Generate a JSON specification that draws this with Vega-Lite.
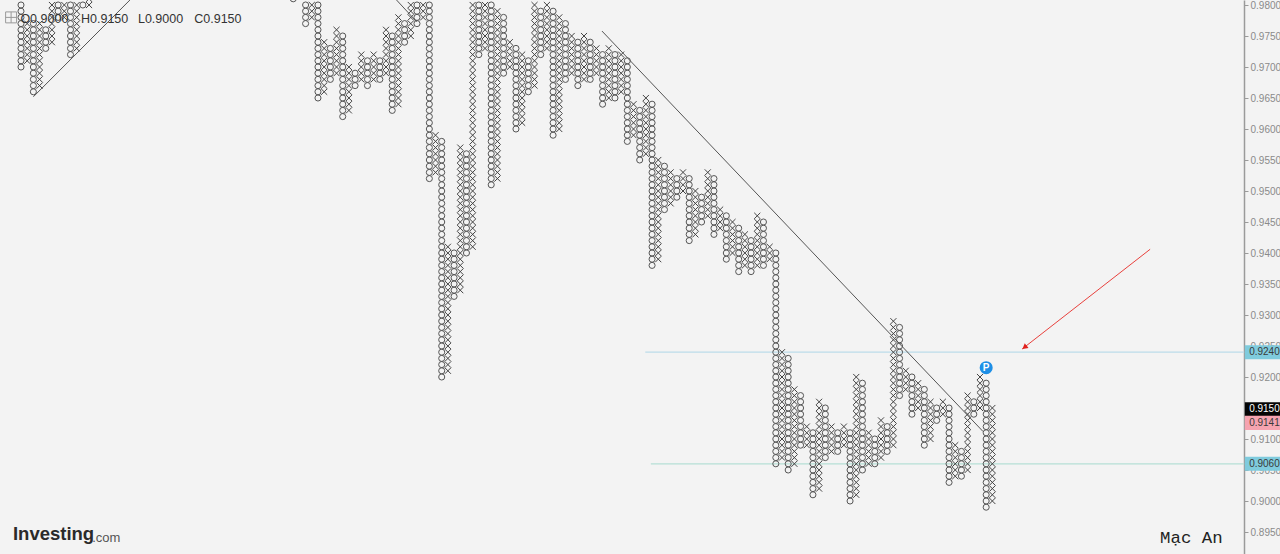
{"$schema":"https://vega.github.io/schema/vega-lite/v6.json","width":1280,"height":554,"padding":0,"autosize":"none","background":"#f3f3f3","config":{"view":{"stroke":null}},
"datasets":{
"O":[
{"c":0,"p":970},{"c":0,"p":971},{"c":0,"p":972},{"c":0,"p":973},{"c":0,"p":974},{"c":0,"p":975},{"c":0,"p":976},{"c":0,"p":977},{"c":0,"p":978},{"c":0,"p":979},{"c":0,"p":980},
{"c":2,"p":966},{"c":2,"p":967},{"c":2,"p":968},{"c":2,"p":969},{"c":2,"p":970},{"c":2,"p":971},{"c":2,"p":972},{"c":2,"p":973},{"c":2,"p":974},{"c":2,"p":975},{"c":2,"p":976},{"c":2,"p":977},
{"c":4,"p":973},{"c":4,"p":974},{"c":4,"p":975},{"c":4,"p":976},
{"c":6,"p":978},{"c":6,"p":979},{"c":6,"p":980},
{"c":8,"p":972},{"c":8,"p":973},{"c":8,"p":974},{"c":8,"p":975},{"c":8,"p":976},{"c":8,"p":977},{"c":8,"p":978},{"c":8,"p":979},{"c":8,"p":980},
{"c":10,"p":980},{"c":44,"p":981},
{"c":46,"p":977},{"c":46,"p":978},{"c":46,"p":979},{"c":46,"p":980},
{"c":48,"p":965},{"c":48,"p":966},{"c":48,"p":967},{"c":48,"p":968},{"c":48,"p":969},{"c":48,"p":970},{"c":48,"p":971},{"c":48,"p":972},{"c":48,"p":973},{"c":48,"p":974},{"c":48,"p":975},{"c":48,"p":976},{"c":48,"p":977},{"c":48,"p":978},{"c":48,"p":979},{"c":48,"p":980},
{"c":50,"p":968},{"c":50,"p":969},{"c":50,"p":970},{"c":50,"p":971},{"c":50,"p":972},{"c":50,"p":973},
{"c":52,"p":962},{"c":52,"p":963},{"c":52,"p":964},{"c":52,"p":965},{"c":52,"p":966},{"c":52,"p":967},{"c":52,"p":968},{"c":52,"p":969},{"c":52,"p":970},{"c":52,"p":971},{"c":52,"p":972},{"c":52,"p":973},{"c":52,"p":974},{"c":52,"p":975},
{"c":54,"p":967},{"c":54,"p":968},{"c":54,"p":969},
{"c":56,"p":967},{"c":56,"p":968},{"c":56,"p":969},{"c":56,"p":970},{"c":56,"p":971},
{"c":58,"p":968},{"c":58,"p":969},{"c":58,"p":970},{"c":58,"p":971},
{"c":60,"p":963},{"c":60,"p":964},{"c":60,"p":965},{"c":60,"p":966},{"c":60,"p":967},{"c":60,"p":968},{"c":60,"p":969},{"c":60,"p":970},{"c":60,"p":971},{"c":60,"p":972},{"c":60,"p":973},{"c":60,"p":974},{"c":60,"p":975},
{"c":62,"p":974},{"c":62,"p":975},{"c":62,"p":976},{"c":62,"p":977},
{"c":64,"p":977},{"c":64,"p":978},{"c":64,"p":979},{"c":64,"p":980},
{"c":66,"p":952},{"c":66,"p":953},{"c":66,"p":954},{"c":66,"p":955},{"c":66,"p":956},{"c":66,"p":957},{"c":66,"p":958},{"c":66,"p":959},{"c":66,"p":960},{"c":66,"p":961},{"c":66,"p":962},{"c":66,"p":963},{"c":66,"p":964},{"c":66,"p":965},{"c":66,"p":966},{"c":66,"p":967},{"c":66,"p":968},{"c":66,"p":969},{"c":66,"p":970},{"c":66,"p":971},{"c":66,"p":972},{"c":66,"p":973},{"c":66,"p":974},{"c":66,"p":975},{"c":66,"p":976},{"c":66,"p":977},{"c":66,"p":978},{"c":66,"p":979},{"c":66,"p":980},
{"c":68,"p":920},{"c":68,"p":921},{"c":68,"p":922},{"c":68,"p":923},{"c":68,"p":924},{"c":68,"p":925},{"c":68,"p":926},{"c":68,"p":927},{"c":68,"p":928},{"c":68,"p":929},{"c":68,"p":930},{"c":68,"p":931},{"c":68,"p":932},{"c":68,"p":933},{"c":68,"p":934},{"c":68,"p":935},{"c":68,"p":936},{"c":68,"p":937},{"c":68,"p":938},{"c":68,"p":939},{"c":68,"p":940},{"c":68,"p":941},{"c":68,"p":942},{"c":68,"p":943},{"c":68,"p":944},{"c":68,"p":945},{"c":68,"p":946},{"c":68,"p":947},{"c":68,"p":948},{"c":68,"p":949},{"c":68,"p":950},{"c":68,"p":951},{"c":68,"p":952},{"c":68,"p":953},{"c":68,"p":954},{"c":68,"p":955},{"c":68,"p":956},{"c":68,"p":957},{"c":68,"p":958},
{"c":70,"p":933},{"c":70,"p":934},{"c":70,"p":935},{"c":70,"p":936},{"c":70,"p":937},{"c":70,"p":938},{"c":70,"p":939},{"c":70,"p":940},
{"c":72,"p":940},{"c":72,"p":941},{"c":72,"p":942},{"c":72,"p":943},{"c":72,"p":944},{"c":72,"p":945},{"c":72,"p":946},{"c":72,"p":947},{"c":72,"p":948},{"c":72,"p":949},{"c":72,"p":950},{"c":72,"p":951},{"c":72,"p":952},{"c":72,"p":953},{"c":72,"p":954},{"c":72,"p":955},{"c":72,"p":956},
{"c":74,"p":972},{"c":74,"p":973},{"c":74,"p":974},{"c":74,"p":975},{"c":74,"p":976},{"c":74,"p":977},{"c":74,"p":978},{"c":74,"p":979},{"c":74,"p":980},
{"c":76,"p":951},{"c":76,"p":952},{"c":76,"p":953},{"c":76,"p":954},{"c":76,"p":955},{"c":76,"p":956},{"c":76,"p":957},{"c":76,"p":958},{"c":76,"p":959},{"c":76,"p":960},{"c":76,"p":961},{"c":76,"p":962},{"c":76,"p":963},{"c":76,"p":964},{"c":76,"p":965},{"c":76,"p":966},{"c":76,"p":967},{"c":76,"p":968},{"c":76,"p":969},{"c":76,"p":970},{"c":76,"p":971},{"c":76,"p":972},{"c":76,"p":973},{"c":76,"p":974},{"c":76,"p":975},{"c":76,"p":976},{"c":76,"p":977},{"c":76,"p":978},{"c":76,"p":979},{"c":76,"p":980},
{"c":78,"p":969},{"c":78,"p":970},{"c":78,"p":971},{"c":78,"p":972},{"c":78,"p":973},{"c":78,"p":974},{"c":78,"p":975},{"c":78,"p":976},{"c":78,"p":977},{"c":78,"p":978},
{"c":80,"p":960},{"c":80,"p":961},{"c":80,"p":962},{"c":80,"p":963},{"c":80,"p":964},{"c":80,"p":965},{"c":80,"p":966},{"c":80,"p":967},{"c":80,"p":968},{"c":80,"p":969},{"c":80,"p":970},{"c":80,"p":971},{"c":80,"p":972},{"c":80,"p":973},
{"c":82,"p":966},{"c":82,"p":967},{"c":82,"p":968},{"c":82,"p":969},{"c":82,"p":970},{"c":82,"p":971},
{"c":84,"p":972},{"c":84,"p":973},{"c":84,"p":974},{"c":84,"p":975},{"c":84,"p":976},{"c":84,"p":977},{"c":84,"p":978},{"c":84,"p":979},
{"c":86,"p":959},{"c":86,"p":960},{"c":86,"p":961},{"c":86,"p":962},{"c":86,"p":963},{"c":86,"p":964},{"c":86,"p":965},{"c":86,"p":966},{"c":86,"p":967},{"c":86,"p":968},{"c":86,"p":969},{"c":86,"p":970},{"c":86,"p":971},{"c":86,"p":972},{"c":86,"p":973},{"c":86,"p":974},{"c":86,"p":975},{"c":86,"p":976},{"c":86,"p":977},{"c":86,"p":978},{"c":86,"p":979},
{"c":88,"p":968},{"c":88,"p":969},{"c":88,"p":970},{"c":88,"p":971},{"c":88,"p":972},{"c":88,"p":973},{"c":88,"p":974},{"c":88,"p":975},{"c":88,"p":976},{"c":88,"p":977},
{"c":90,"p":967},{"c":90,"p":968},{"c":90,"p":969},{"c":90,"p":970},{"c":90,"p":971},{"c":90,"p":972},{"c":90,"p":973},{"c":90,"p":974},
{"c":92,"p":968},{"c":92,"p":969},{"c":92,"p":970},{"c":92,"p":971},{"c":92,"p":972},{"c":92,"p":973},{"c":92,"p":974},
{"c":94,"p":964},{"c":94,"p":965},{"c":94,"p":966},{"c":94,"p":967},{"c":94,"p":968},{"c":94,"p":969},{"c":94,"p":970},{"c":94,"p":971},{"c":94,"p":972},
{"c":96,"p":965},{"c":96,"p":966},{"c":96,"p":967},{"c":96,"p":968},{"c":96,"p":969},{"c":96,"p":970},{"c":96,"p":971},{"c":96,"p":972},
{"c":98,"p":958},{"c":98,"p":959},{"c":98,"p":960},{"c":98,"p":961},{"c":98,"p":962},{"c":98,"p":963},{"c":98,"p":964},{"c":98,"p":965},{"c":98,"p":966},{"c":98,"p":967},{"c":98,"p":968},{"c":98,"p":969},{"c":98,"p":970},{"c":98,"p":971},
{"c":100,"p":955},{"c":100,"p":956},{"c":100,"p":957},{"c":100,"p":958},{"c":100,"p":959},{"c":100,"p":960},{"c":100,"p":961},{"c":100,"p":962},{"c":100,"p":963},
{"c":102,"p":938},{"c":102,"p":939},{"c":102,"p":940},{"c":102,"p":941},{"c":102,"p":942},{"c":102,"p":943},{"c":102,"p":944},{"c":102,"p":945},{"c":102,"p":946},{"c":102,"p":947},{"c":102,"p":948},{"c":102,"p":949},{"c":102,"p":950},{"c":102,"p":951},{"c":102,"p":952},{"c":102,"p":953},{"c":102,"p":954},{"c":102,"p":955},{"c":102,"p":956},{"c":102,"p":957},{"c":102,"p":958},{"c":102,"p":959},{"c":102,"p":960},{"c":102,"p":961},{"c":102,"p":962},{"c":102,"p":963},{"c":102,"p":964},
{"c":104,"p":947},{"c":104,"p":948},{"c":104,"p":949},{"c":104,"p":950},{"c":104,"p":951},{"c":104,"p":952},{"c":104,"p":953},{"c":104,"p":954},
{"c":106,"p":949},{"c":106,"p":950},{"c":106,"p":951},{"c":106,"p":952},
{"c":108,"p":942},{"c":108,"p":943},{"c":108,"p":944},{"c":108,"p":945},{"c":108,"p":946},{"c":108,"p":947},{"c":108,"p":948},{"c":108,"p":949},{"c":108,"p":950},{"c":108,"p":951},{"c":108,"p":952},
{"c":110,"p":945},{"c":110,"p":946},{"c":110,"p":947},{"c":110,"p":948},{"c":110,"p":949},
{"c":112,"p":943},{"c":112,"p":944},{"c":112,"p":945},{"c":112,"p":946},{"c":112,"p":947},{"c":112,"p":948},{"c":112,"p":949},{"c":112,"p":950},{"c":112,"p":951},{"c":112,"p":952},
{"c":114,"p":939},{"c":114,"p":940},{"c":114,"p":941},{"c":114,"p":942},{"c":114,"p":943},{"c":114,"p":944},{"c":114,"p":945},{"c":114,"p":946},
{"c":116,"p":937},{"c":116,"p":938},{"c":116,"p":939},{"c":116,"p":940},{"c":116,"p":941},{"c":116,"p":942},{"c":116,"p":943},{"c":116,"p":944},
{"c":118,"p":937},{"c":118,"p":938},{"c":118,"p":939},{"c":118,"p":940},{"c":118,"p":941},{"c":118,"p":942},
{"c":120,"p":938},{"c":120,"p":939},{"c":120,"p":940},{"c":120,"p":941},{"c":120,"p":942},{"c":120,"p":943},{"c":120,"p":944},{"c":120,"p":945},
{"c":122,"p":906},{"c":122,"p":907},{"c":122,"p":908},{"c":122,"p":909},{"c":122,"p":910},{"c":122,"p":911},{"c":122,"p":912},{"c":122,"p":913},{"c":122,"p":914},{"c":122,"p":915},{"c":122,"p":916},{"c":122,"p":917},{"c":122,"p":918},{"c":122,"p":919},{"c":122,"p":920},{"c":122,"p":921},{"c":122,"p":922},{"c":122,"p":923},{"c":122,"p":924},{"c":122,"p":925},{"c":122,"p":926},{"c":122,"p":927},{"c":122,"p":928},{"c":122,"p":929},{"c":122,"p":930},{"c":122,"p":931},{"c":122,"p":932},{"c":122,"p":933},{"c":122,"p":934},{"c":122,"p":935},{"c":122,"p":936},{"c":122,"p":937},{"c":122,"p":938},{"c":122,"p":939},{"c":122,"p":940},
{"c":124,"p":905},{"c":124,"p":906},{"c":124,"p":907},{"c":124,"p":908},{"c":124,"p":909},{"c":124,"p":910},{"c":124,"p":911},{"c":124,"p":912},{"c":124,"p":913},{"c":124,"p":914},{"c":124,"p":915},{"c":124,"p":916},{"c":124,"p":917},{"c":124,"p":918},{"c":124,"p":919},{"c":124,"p":920},{"c":124,"p":921},{"c":124,"p":922},{"c":124,"p":923},
{"c":126,"p":909},{"c":126,"p":910},{"c":126,"p":911},{"c":126,"p":912},{"c":126,"p":913},{"c":126,"p":914},{"c":126,"p":915},{"c":126,"p":916},{"c":126,"p":917},
{"c":128,"p":901},{"c":128,"p":902},{"c":128,"p":903},{"c":128,"p":904},{"c":128,"p":905},{"c":128,"p":906},{"c":128,"p":907},{"c":128,"p":908},{"c":128,"p":909},{"c":128,"p":910},{"c":128,"p":911},
{"c":130,"p":907},{"c":130,"p":908},{"c":130,"p":909},{"c":130,"p":910},{"c":130,"p":911},{"c":130,"p":912},{"c":130,"p":913},{"c":130,"p":914},{"c":130,"p":915},
{"c":132,"p":908},{"c":132,"p":909},{"c":132,"p":910},{"c":132,"p":911},
{"c":134,"p":900},{"c":134,"p":901},{"c":134,"p":902},{"c":134,"p":903},{"c":134,"p":904},{"c":134,"p":905},{"c":134,"p":906},{"c":134,"p":907},{"c":134,"p":908},{"c":134,"p":909},{"c":134,"p":910},{"c":134,"p":911},
{"c":136,"p":905},{"c":136,"p":906},{"c":136,"p":907},{"c":136,"p":908},{"c":136,"p":909},{"c":136,"p":910},{"c":136,"p":911},{"c":136,"p":912},{"c":136,"p":913},{"c":136,"p":914},{"c":136,"p":915},{"c":136,"p":916},{"c":136,"p":917},{"c":136,"p":918},{"c":136,"p":919},
{"c":138,"p":906},{"c":138,"p":907},{"c":138,"p":908},{"c":138,"p":909},{"c":138,"p":910},
{"c":140,"p":908},{"c":140,"p":909},{"c":140,"p":910},{"c":140,"p":911},{"c":140,"p":912},
{"c":142,"p":917},{"c":142,"p":918},{"c":142,"p":919},{"c":142,"p":920},{"c":142,"p":921},{"c":142,"p":922},{"c":142,"p":923},{"c":142,"p":924},{"c":142,"p":925},{"c":142,"p":926},{"c":142,"p":927},{"c":142,"p":928},
{"c":144,"p":914},{"c":144,"p":915},{"c":144,"p":916},{"c":144,"p":917},{"c":144,"p":918},{"c":144,"p":919},{"c":144,"p":920},
{"c":146,"p":909},{"c":146,"p":910},{"c":146,"p":911},{"c":146,"p":912},{"c":146,"p":913},{"c":146,"p":914},{"c":146,"p":915},{"c":146,"p":916},{"c":146,"p":917},{"c":146,"p":918},
{"c":148,"p":913},{"c":148,"p":914},{"c":148,"p":915},
{"c":150,"p":903},{"c":150,"p":904},{"c":150,"p":905},{"c":150,"p":906},{"c":150,"p":907},{"c":150,"p":908},{"c":150,"p":909},{"c":150,"p":910},{"c":150,"p":911},{"c":150,"p":912},{"c":150,"p":913},{"c":150,"p":914},{"c":150,"p":915},
{"c":152,"p":904},{"c":152,"p":905},{"c":152,"p":906},{"c":152,"p":907},{"c":152,"p":908},
{"c":154,"p":914},{"c":154,"p":915},{"c":154,"p":916},
{"c":156,"p":899},{"c":156,"p":900},{"c":156,"p":901},{"c":156,"p":902},{"c":156,"p":903},{"c":156,"p":904},{"c":156,"p":905},{"c":156,"p":906},{"c":156,"p":907},{"c":156,"p":908},{"c":156,"p":909},{"c":156,"p":910},{"c":156,"p":911},{"c":156,"p":912},{"c":156,"p":913},{"c":156,"p":914},{"c":156,"p":915},{"c":156,"p":916},{"c":156,"p":917},{"c":156,"p":918},{"c":156,"p":919}
],
"X":[
{"c":1,"p":971},{"c":1,"p":972},{"c":1,"p":973},{"c":1,"p":974},{"c":1,"p":975},{"c":1,"p":976},{"c":1,"p":977},
{"c":3,"p":967},{"c":3,"p":968},{"c":3,"p":969},{"c":3,"p":970},{"c":3,"p":971},{"c":3,"p":972},{"c":3,"p":973},{"c":3,"p":974},{"c":3,"p":975},{"c":3,"p":976},{"c":3,"p":977},
{"c":5,"p":974},{"c":5,"p":975},{"c":5,"p":976},{"c":5,"p":977},{"c":5,"p":978},{"c":5,"p":979},{"c":5,"p":980},
{"c":7,"p":978},{"c":7,"p":979},{"c":7,"p":980},
{"c":9,"p":973},{"c":9,"p":974},{"c":9,"p":975},{"c":9,"p":976},{"c":9,"p":977},{"c":9,"p":978},{"c":9,"p":979},{"c":9,"p":980},
{"c":11,"p":980},{"c":11,"p":981},
{"c":47,"p":978},{"c":47,"p":979},{"c":47,"p":980},
{"c":49,"p":966},{"c":49,"p":967},{"c":49,"p":968},{"c":49,"p":969},{"c":49,"p":970},{"c":49,"p":971},{"c":49,"p":972},{"c":49,"p":973},{"c":49,"p":974},
{"c":51,"p":969},{"c":51,"p":970},{"c":51,"p":971},{"c":51,"p":972},{"c":51,"p":973},{"c":51,"p":974},{"c":51,"p":975},{"c":51,"p":976},
{"c":53,"p":963},{"c":53,"p":964},{"c":53,"p":965},{"c":53,"p":966},{"c":53,"p":967},{"c":53,"p":968},{"c":53,"p":969},{"c":53,"p":970},
{"c":55,"p":968},{"c":55,"p":969},{"c":55,"p":970},{"c":55,"p":971},{"c":55,"p":972},
{"c":57,"p":968},{"c":57,"p":969},{"c":57,"p":970},{"c":57,"p":971},{"c":57,"p":972},
{"c":59,"p":969},{"c":59,"p":970},{"c":59,"p":971},{"c":59,"p":972},{"c":59,"p":973},{"c":59,"p":974},{"c":59,"p":975},{"c":59,"p":976},
{"c":61,"p":964},{"c":61,"p":965},{"c":61,"p":966},{"c":61,"p":967},{"c":61,"p":968},{"c":61,"p":969},{"c":61,"p":970},{"c":61,"p":971},{"c":61,"p":972},{"c":61,"p":973},{"c":61,"p":974},{"c":61,"p":975},{"c":61,"p":976},{"c":61,"p":977},{"c":61,"p":978},
{"c":63,"p":975},{"c":63,"p":976},{"c":63,"p":977},{"c":63,"p":978},{"c":63,"p":979},{"c":63,"p":980},
{"c":65,"p":978},{"c":65,"p":979},{"c":65,"p":980},
{"c":67,"p":953},{"c":67,"p":954},{"c":67,"p":955},{"c":67,"p":956},{"c":67,"p":957},{"c":67,"p":958},{"c":67,"p":959},
{"c":69,"p":921},{"c":69,"p":922},{"c":69,"p":923},{"c":69,"p":924},{"c":69,"p":925},{"c":69,"p":926},{"c":69,"p":927},{"c":69,"p":928},{"c":69,"p":929},{"c":69,"p":930},{"c":69,"p":931},{"c":69,"p":932},{"c":69,"p":933},{"c":69,"p":934},{"c":69,"p":935},{"c":69,"p":936},{"c":69,"p":937},{"c":69,"p":938},{"c":69,"p":939},{"c":69,"p":940},{"c":69,"p":941},
{"c":71,"p":934},{"c":71,"p":935},{"c":71,"p":936},{"c":71,"p":937},{"c":71,"p":938},{"c":71,"p":939},{"c":71,"p":940},{"c":71,"p":941},{"c":71,"p":942},{"c":71,"p":943},{"c":71,"p":944},{"c":71,"p":945},{"c":71,"p":946},{"c":71,"p":947},{"c":71,"p":948},{"c":71,"p":949},{"c":71,"p":950},{"c":71,"p":951},{"c":71,"p":952},{"c":71,"p":953},{"c":71,"p":954},{"c":71,"p":955},{"c":71,"p":956},{"c":71,"p":957},
{"c":73,"p":941},{"c":73,"p":942},{"c":73,"p":943},{"c":73,"p":944},{"c":73,"p":945},{"c":73,"p":946},{"c":73,"p":947},{"c":73,"p":948},{"c":73,"p":949},{"c":73,"p":950},{"c":73,"p":951},{"c":73,"p":952},{"c":73,"p":953},{"c":73,"p":954},{"c":73,"p":955},{"c":73,"p":956},{"c":73,"p":957},{"c":73,"p":958},{"c":73,"p":959},{"c":73,"p":960},{"c":73,"p":961},{"c":73,"p":962},{"c":73,"p":963},{"c":73,"p":964},{"c":73,"p":965},{"c":73,"p":966},{"c":73,"p":967},{"c":73,"p":968},{"c":73,"p":969},{"c":73,"p":970},{"c":73,"p":971},{"c":73,"p":972},{"c":73,"p":973},{"c":73,"p":974},{"c":73,"p":975},{"c":73,"p":976},{"c":73,"p":977},{"c":73,"p":978},{"c":73,"p":979},{"c":73,"p":980},
{"c":75,"p":973},{"c":75,"p":974},{"c":75,"p":975},{"c":75,"p":976},{"c":75,"p":977},{"c":75,"p":978},{"c":75,"p":979},{"c":75,"p":980},
{"c":77,"p":952},{"c":77,"p":953},{"c":77,"p":954},{"c":77,"p":955},{"c":77,"p":956},{"c":77,"p":957},{"c":77,"p":958},{"c":77,"p":959},{"c":77,"p":960},{"c":77,"p":961},{"c":77,"p":962},{"c":77,"p":963},{"c":77,"p":964},{"c":77,"p":965},{"c":77,"p":966},{"c":77,"p":967},{"c":77,"p":968},{"c":77,"p":969},{"c":77,"p":970},{"c":77,"p":971},{"c":77,"p":972},{"c":77,"p":973},{"c":77,"p":974},{"c":77,"p":975},{"c":77,"p":976},{"c":77,"p":977},{"c":77,"p":978},{"c":77,"p":979},
{"c":79,"p":970},{"c":79,"p":971},{"c":79,"p":972},{"c":79,"p":973},{"c":79,"p":974},
{"c":81,"p":961},{"c":81,"p":962},{"c":81,"p":963},{"c":81,"p":964},{"c":81,"p":965},{"c":81,"p":966},{"c":81,"p":967},{"c":81,"p":968},{"c":81,"p":969},{"c":81,"p":970},{"c":81,"p":971},{"c":81,"p":972},
{"c":83,"p":967},{"c":83,"p":968},{"c":83,"p":969},{"c":83,"p":970},{"c":83,"p":971},{"c":83,"p":972},{"c":83,"p":973},{"c":83,"p":974},{"c":83,"p":975},{"c":83,"p":976},{"c":83,"p":977},{"c":83,"p":978},{"c":83,"p":979},{"c":83,"p":980},
{"c":85,"p":973},{"c":85,"p":974},{"c":85,"p":975},{"c":85,"p":976},{"c":85,"p":977},{"c":85,"p":978},{"c":85,"p":979},{"c":85,"p":980},
{"c":87,"p":960},{"c":87,"p":961},{"c":87,"p":962},{"c":87,"p":963},{"c":87,"p":964},{"c":87,"p":965},{"c":87,"p":966},{"c":87,"p":967},{"c":87,"p":968},{"c":87,"p":969},{"c":87,"p":970},{"c":87,"p":971},{"c":87,"p":972},{"c":87,"p":973},{"c":87,"p":974},{"c":87,"p":975},{"c":87,"p":976},{"c":87,"p":977},{"c":87,"p":978},
{"c":89,"p":969},{"c":89,"p":970},{"c":89,"p":971},{"c":89,"p":972},{"c":89,"p":973},{"c":89,"p":974},{"c":89,"p":975},
{"c":91,"p":968},{"c":91,"p":969},{"c":91,"p":970},{"c":91,"p":971},{"c":91,"p":972},{"c":91,"p":973},{"c":91,"p":974},{"c":91,"p":975},
{"c":93,"p":969},{"c":93,"p":970},{"c":93,"p":971},{"c":93,"p":972},{"c":93,"p":973},
{"c":95,"p":965},{"c":95,"p":966},{"c":95,"p":967},{"c":95,"p":968},{"c":95,"p":969},{"c":95,"p":970},{"c":95,"p":971},{"c":95,"p":972},{"c":95,"p":973},
{"c":97,"p":966},{"c":97,"p":967},{"c":97,"p":968},{"c":97,"p":969},{"c":97,"p":970},{"c":97,"p":971},{"c":97,"p":972},
{"c":99,"p":959},{"c":99,"p":960},{"c":99,"p":961},{"c":99,"p":962},{"c":99,"p":963},{"c":99,"p":964},
{"c":101,"p":956},{"c":101,"p":957},{"c":101,"p":958},{"c":101,"p":959},{"c":101,"p":960},{"c":101,"p":961},{"c":101,"p":962},{"c":101,"p":963},{"c":101,"p":964},{"c":101,"p":965},
{"c":103,"p":939},{"c":103,"p":940},{"c":103,"p":941},{"c":103,"p":942},{"c":103,"p":943},{"c":103,"p":944},{"c":103,"p":945},{"c":103,"p":946},{"c":103,"p":947},{"c":103,"p":948},{"c":103,"p":949},{"c":103,"p":950},{"c":103,"p":951},{"c":103,"p":952},{"c":103,"p":953},{"c":103,"p":954},{"c":103,"p":955},
{"c":105,"p":948},{"c":105,"p":949},{"c":105,"p":950},{"c":105,"p":951},{"c":105,"p":952},{"c":105,"p":953},
{"c":107,"p":950},{"c":107,"p":951},{"c":107,"p":952},{"c":107,"p":953},
{"c":109,"p":943},{"c":109,"p":944},{"c":109,"p":945},{"c":109,"p":946},{"c":109,"p":947},{"c":109,"p":948},{"c":109,"p":949},{"c":109,"p":950},
{"c":111,"p":946},{"c":111,"p":947},{"c":111,"p":948},{"c":111,"p":949},{"c":111,"p":950},{"c":111,"p":951},{"c":111,"p":952},{"c":111,"p":953},
{"c":113,"p":944},{"c":113,"p":945},{"c":113,"p":946},{"c":113,"p":947},
{"c":115,"p":940},{"c":115,"p":941},{"c":115,"p":942},{"c":115,"p":943},{"c":115,"p":944},{"c":115,"p":945},
{"c":117,"p":938},{"c":117,"p":939},{"c":117,"p":940},{"c":117,"p":941},{"c":117,"p":942},{"c":117,"p":943},
{"c":119,"p":938},{"c":119,"p":939},{"c":119,"p":940},{"c":119,"p":941},{"c":119,"p":942},{"c":119,"p":943},{"c":119,"p":944},{"c":119,"p":945},{"c":119,"p":946},
{"c":121,"p":939},{"c":121,"p":940},{"c":121,"p":941},
{"c":123,"p":907},{"c":123,"p":908},{"c":123,"p":909},{"c":123,"p":910},{"c":123,"p":911},{"c":123,"p":912},{"c":123,"p":913},{"c":123,"p":914},{"c":123,"p":915},{"c":123,"p":916},{"c":123,"p":917},{"c":123,"p":918},{"c":123,"p":919},{"c":123,"p":920},{"c":123,"p":921},{"c":123,"p":922},{"c":123,"p":923},{"c":123,"p":924},
{"c":125,"p":906},{"c":125,"p":907},{"c":125,"p":908},{"c":125,"p":909},{"c":125,"p":910},{"c":125,"p":911},{"c":125,"p":912},{"c":125,"p":913},{"c":125,"p":914},{"c":125,"p":915},{"c":125,"p":916},{"c":125,"p":917},{"c":125,"p":918},
{"c":127,"p":909},{"c":127,"p":910},{"c":127,"p":911},{"c":127,"p":912},
{"c":129,"p":902},{"c":129,"p":903},{"c":129,"p":904},{"c":129,"p":905},{"c":129,"p":906},{"c":129,"p":907},{"c":129,"p":908},{"c":129,"p":909},{"c":129,"p":910},{"c":129,"p":911},{"c":129,"p":912},{"c":129,"p":913},{"c":129,"p":914},{"c":129,"p":915},{"c":129,"p":916},
{"c":131,"p":908},{"c":131,"p":909},{"c":131,"p":910},{"c":131,"p":911},{"c":131,"p":912},
{"c":133,"p":909},{"c":133,"p":910},{"c":133,"p":911},{"c":133,"p":912},
{"c":135,"p":901},{"c":135,"p":902},{"c":135,"p":903},{"c":135,"p":904},{"c":135,"p":905},{"c":135,"p":906},{"c":135,"p":907},{"c":135,"p":908},{"c":135,"p":909},{"c":135,"p":910},{"c":135,"p":911},{"c":135,"p":912},{"c":135,"p":913},{"c":135,"p":914},{"c":135,"p":915},{"c":135,"p":916},{"c":135,"p":917},{"c":135,"p":918},{"c":135,"p":919},{"c":135,"p":920},
{"c":137,"p":906},{"c":137,"p":907},{"c":137,"p":908},{"c":137,"p":909},{"c":137,"p":910},{"c":137,"p":911},
{"c":139,"p":907},{"c":139,"p":908},{"c":139,"p":909},{"c":139,"p":910},{"c":139,"p":911},{"c":139,"p":912},{"c":139,"p":913},
{"c":141,"p":909},{"c":141,"p":910},{"c":141,"p":911},{"c":141,"p":912},{"c":141,"p":913},{"c":141,"p":914},{"c":141,"p":915},{"c":141,"p":916},{"c":141,"p":917},{"c":141,"p":918},{"c":141,"p":919},{"c":141,"p":920},{"c":141,"p":921},{"c":141,"p":922},{"c":141,"p":923},{"c":141,"p":924},{"c":141,"p":925},{"c":141,"p":926},{"c":141,"p":927},{"c":141,"p":928},{"c":141,"p":929},
{"c":143,"p":918},{"c":143,"p":919},{"c":143,"p":920},{"c":143,"p":921},
{"c":145,"p":915},{"c":145,"p":916},{"c":145,"p":917},{"c":145,"p":918},{"c":145,"p":919},
{"c":147,"p":910},{"c":147,"p":911},{"c":147,"p":912},{"c":147,"p":913},{"c":147,"p":914},{"c":147,"p":915},{"c":147,"p":916},
{"c":149,"p":914},{"c":149,"p":915},{"c":149,"p":916},
{"c":151,"p":904},{"c":151,"p":905},{"c":151,"p":906},{"c":151,"p":907},{"c":151,"p":908},{"c":151,"p":909},
{"c":153,"p":905},{"c":153,"p":906},{"c":153,"p":907},{"c":153,"p":908},{"c":153,"p":909},{"c":153,"p":910},{"c":153,"p":911},{"c":153,"p":912},{"c":153,"p":913},{"c":153,"p":914},{"c":153,"p":915},{"c":153,"p":916},{"c":153,"p":917},
{"c":155,"p":915},{"c":155,"p":916},{"c":155,"p":917},{"c":155,"p":918},{"c":155,"p":919},{"c":155,"p":920},
{"c":157,"p":900},{"c":157,"p":901},{"c":157,"p":902},{"c":157,"p":903},{"c":157,"p":904},{"c":157,"p":905},{"c":157,"p":906},{"c":157,"p":907},{"c":157,"p":908},{"c":157,"p":909},{"c":157,"p":910},{"c":157,"p":911},{"c":157,"p":912},{"c":157,"p":913},{"c":157,"p":914},{"c":157,"p":915}
]},
"encoding":{"x":{"field":"c","type":"quantitative","scale":{"domain":[-3.394,203.49],"nice":false,"zero":false},"axis":null},
"y":{"field":"p","type":"quantitative","scale":{"domain":[891.45,980.806],"nice":false,"zero":false},"axis":{"orient":"right","offset":-36,"title":null,"grid":false,"values":[895,900,905,910,915,920,925,930,935,940,945,950,955,960,965,970,975,980],"labelExpr":"format(datum.value/1000,'.4f')","labelFont":"Liberation Sans","labelFontSize":10,"labelColor":"#8a8a8a","labelPadding":2,"labelOffset":1,"labelOverlap":false,"labelBound":false,"labelFlush":false,"domainColor":"#9a9a9a","domainWidth":1.5,"tickColor":"#9a9a9a","tickSize":4}}},
"layer":[
{"data":{"values":[{"c":100.9,"p":924},{"c":197.7,"p":924}]},"mark":{"type":"line","color":"#bcdcea","strokeWidth":1.2,"clip":true}},
{"data":{"values":[{"c":101.8,"p":906},{"c":197.7,"p":906}]},"mark":{"type":"line","color":"#b6dfd6","strokeWidth":1.2,"clip":true}},
{"data":{"name":"O"},"mark":{"type":"point","shape":"circle","size":37,"filled":false,"stroke":"#555555","strokeWidth":1,"opacity":1,"clip":true}},
{"data":{"name":"X"},"mark":{"type":"point","shape":"M-1,-1L1,1M-1,1L1,-1","size":37,"filled":false,"stroke":"#444444","strokeWidth":1,"opacity":1,"clip":true}},
{"data":{"values":[{"g":"a","c":2,"p":965.2},{"g":"a","c":17.6,"p":980.8},{"g":"b","c":60.7,"p":980.8},{"g":"b","c":63.95,"p":977.3},{"g":"d","c":93.9,"p":975.8},{"g":"d","c":155.5,"p":911.2}]},"mark":{"type":"line","color":"#555555","strokeWidth":1,"clip":true},"encoding":{"detail":{"field":"g"}}},
{"data":{"values":[{"c":182.5,"p":940.6},{"c":161.8,"p":924.5}]},"mark":{"type":"line","color":"#e8403c","strokeWidth":1}},
{"data":{"values":[{"c":162.2,"p":924.8}]},"mark":{"type":"point","shape":"triangle-up","filled":true,"size":38,"color":"#e0201c","opacity":1,"angle":232}},
{"data":{"values":[{"c":156,"p":921.5}]},"mark":{"type":"point","shape":"circle","filled":true,"size":170,"color":"#1e8fe6","opacity":1}},
{"data":{"values":[{"c":156,"p":921.5,"t":"P"}]},"mark":{"type":"text","font":"Liberation Sans","fontWeight":"bold","fontSize":10,"color":"#ffffff","align":"center","baseline":"middle"},"encoding":{"text":{"field":"t"}}},
{"data":{"values":[{"c":197.8,"c2":203.49,"p":925.13,"p2":922.87,"label":"0.9240"},{"c":197.8,"c2":203.49,"p":907.13,"p2":904.87,"label":"0.9060"},{"c":197.8,"c2":203.49,"p":915.93,"p2":913.67,"label":"0.9150"},{"c":197.8,"c2":203.49,"p":913.73,"p2":911.47,"label":"0.9141"}]},"mark":{"type":"rect"},"encoding":{"x2":{"field":"c2"},"y2":{"field":"p2"},"color":{"field":"label","type":"nominal","legend":null,"scale":{"domain":["0.9240","0.9060","0.9150","0.9141"],"range":["#7fcbdd","#7fcbdd","#050505","#f6a3b0"]}}}},
{"data":{"values":[{"c":198.5,"p":924,"label":"0.9240"},{"c":198.5,"p":906,"label":"0.9060"},{"c":198.5,"p":914.8,"label":"0.9150"},{"c":198.5,"p":912.6,"label":"0.9141"}]},"mark":{"type":"text","font":"Liberation Sans","fontSize":10,"align":"left","baseline":"middle"},"encoding":{"text":{"field":"label"},"color":{"condition":{"test":"datum.label==='0.9150'","value":"#ffffff"},"value":"#3a3a3a"}}},
{"data":{"values":[{"c":-0.1,"p":977.7,"t":"O0.9000"},{"c":9.7,"p":977.7,"t":"H0.9150"},{"c":18.9,"p":977.7,"t":"L0.9000"},{"c":28,"p":977.7,"t":"C0.9150"}]},"mark":{"type":"text","font":"Liberation Sans","fontSize":12.5,"align":"left","baseline":"middle","color":"#333333"},"encoding":{"text":{"field":"t"}}},
{"data":{"values":[{"c":-1.6,"p":978}]},"mark":{"type":"point","shape":"M-1,-1H1V1H-1ZM0,-1V1M-1,0H1","size":120,"filled":false,"stroke":"#999999","strokeWidth":1,"opacity":1}},
{"data":{"values":[{"c":-1.3,"p":894.7,"t":"Investing"}]},"mark":{"type":"text","font":"Liberation Sans","fontWeight":"bold","fontSize":18.5,"align":"left","baseline":"middle","color":"#2a2a2a","letterSpacing":-0.6},"encoding":{"text":{"field":"t"}}},
{"data":{"values":[{"c":11.5,"p":894.1,"t":".com"}]},"mark":{"type":"text","font":"Liberation Sans","fontSize":13,"align":"left","baseline":"middle","color":"#555555"},"encoding":{"text":{"field":"t"}}},
{"data":{"values":[{"c":184.1,"p":894,"t":"Mạc An"}]},"mark":{"type":"text","font":"Liberation Mono","fontSize":17.4,"align":"left","baseline":"middle","color":"#222222"},"encoding":{"text":{"field":"t"}}}
]}
